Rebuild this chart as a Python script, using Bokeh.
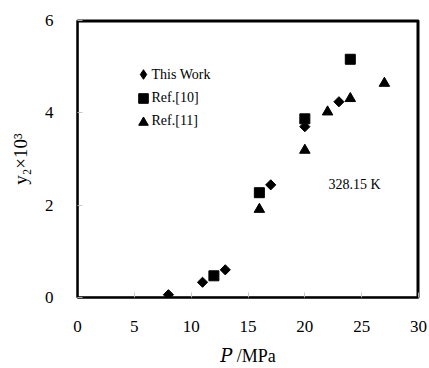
import numpy as np
from bokeh.plotting import figure
from bokeh.models import Legend, LegendItem, Label, SingleIntervalTicker, BoxAnnotation
from bokeh.embed import file_html
from bokeh.resources import INLINE

# Data (P / MPa, y2 x 10^3)
this_p = [8, 11, 13, 17, 20, 23]
this_y = [0.06, 0.33, 0.60, 2.44, 3.70, 4.24]
ref10_p = [12, 16, 20, 24]
ref10_y = [0.47, 2.27, 3.87, 5.16]
ref11_p = [16, 20, 22, 24, 27]
ref11_y = [1.91, 3.19, 4.02, 4.31, 4.64]
series_names = ["This Work", "Ref.[10]", "Ref.[11]"]

x_ticks_interval = 5
y_ticks_interval = 2
x_max, y_max = 30, 6
FONT = "Liberation Serif"

p = figure(width=429, height=368, x_range=(0, x_max), y_range=(0, y_max),
           output_backend="svg", toolbar_location=None,
           min_border_left=77, min_border_right=11, min_border_top=20, min_border_bottom=71)
p.xgrid.visible = False
p.ygrid.visible = False
p.outline_line_color = "black"
p.outline_line_width = 2
p.background_fill_color = "white"
p.border_fill_color = "white"

xa = p.xaxis[0]
ya = p.yaxis[0]
xa.ticker = SingleIntervalTicker(interval=x_ticks_interval)
ya.ticker = SingleIntervalTicker(interval=y_ticks_interval)
for ax in (xa, ya):
    ax.axis_line_width = 2
    ax.axis_line_color = "black"
    ax.major_tick_in = 5
    ax.major_tick_out = 0
    ax.major_tick_line_color = "#c8c8c8"
    ax.minor_tick_line_color = None
    ax.major_label_text_font = FONT
    ax.major_label_text_font_size = "17px"
    ax.major_label_text_color = "black"
    ax.axis_label_text_font = FONT
    ax.axis_label_text_font_size = "18px"
    ax.axis_label_text_font_style = "normal"
    ax.axis_label_text_color = "black"
xa.major_label_standoff = 19
ya.major_label_standoff = 20

ya.axis_label = "y\u2082\u00d710\u00b3"
ya.axis_label_text_font_size = "19px"
ya.axis_label_standoff = 11
xa.axis_label = "\U0001D443 /MPa"
xa.axis_label_text_font = "Liberation Serif, DejaVu Serif"
xa.axis_label_standoff = 11

# top and right frame lines
p.add_layout(BoxAnnotation(left=0, right=x_max, bottom=0, top=y_max,
                           fill_alpha=0, line_color="black", line_width=2))
p.segment(x0=[0, x_max], y0=[y_max, 0], x1=[x_max, x_max], y1=[y_max, y_max],
          line_color="black", line_width=4)

r_this = p.scatter(this_p, this_y, marker="square", angle=np.pi / 4, size=7.2,
                   fill_color="black", line_color="black")
r_10 = p.scatter(ref10_p, ref10_y, marker="square", size=10,
                 fill_color="black", line_color="black")
r_11 = p.scatter(ref11_p, ref11_y, marker="triangle", size=10.5,
                 fill_color="black", line_color="black")
# legend-only glyph for the diamond key (not drawn in the plot area)
r_this_key = p.scatter([float("nan")], [float("nan")], marker="diamond",
                       fill_color="black", line_color="black")

# legend keys (glyphs only); their texts are drawn as labels next to them
leg = Legend(items=[LegendItem(label=" ", renderers=[r]) for r in (r_this_key, r_10, r_11)],
             location=(54, 163), glyph_width=24, glyph_height=24, label_height=24,
             label_standoff=0, padding=0, margin=0, spacing=0, label_width=0,
             label_text_font=FONT, label_text_font_size="14px",
             background_fill_alpha=0, border_line_color=None)
p.add_layout(leg)
leg_text_y = [223, 200, 177]
for name, ty in zip(series_names, leg_text_y):
    p.add_layout(Label(x=74, y=ty, x_units="screen", y_units="screen", text=name,
                       text_font=FONT, text_font_size="14px", text_baseline="middle",
                       text_color="black"))

p.add_layout(Label(x=22.08, y=2.45, text="328.15 K", text_font=FONT,
                   text_font_size="14px", text_baseline="middle", text_color="black"))

open("out.html", "w").write(file_html(p, INLINE))
